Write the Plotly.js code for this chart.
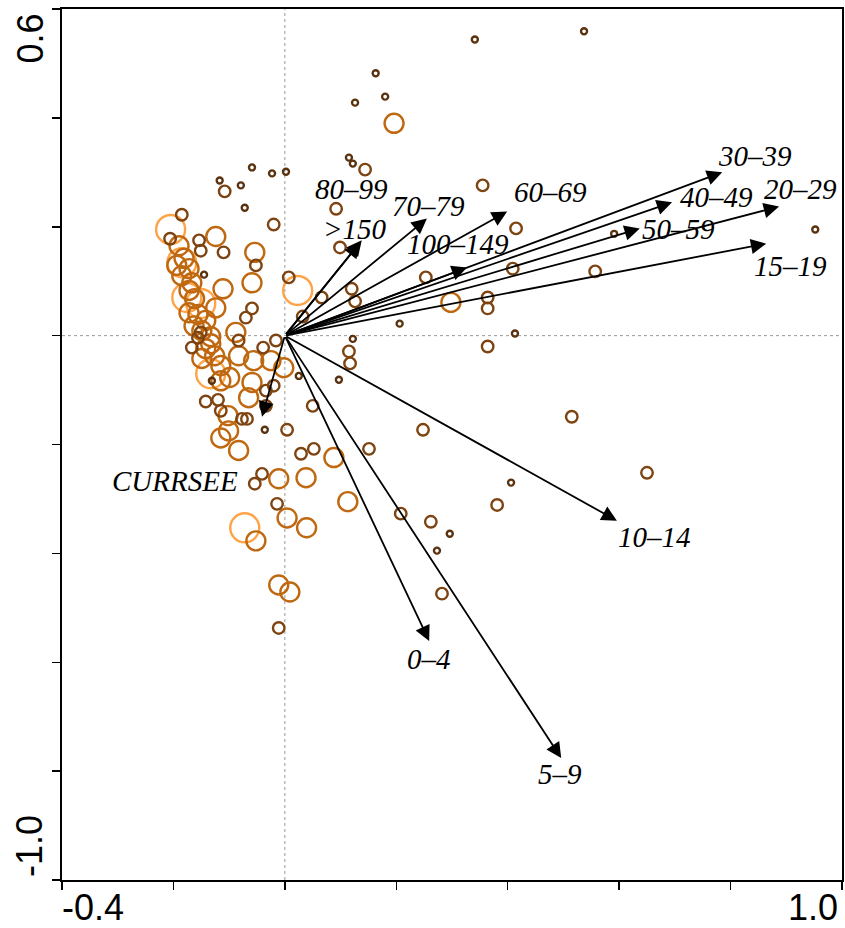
<!DOCTYPE html>
<html>
<head>
<meta charset="utf-8">
<script src="https://cdn.plot.ly/plotly-3.0.1.min.js"></script>
<style>
  html, body { margin: 0; padding: 0; background: #fff; }
  #chart { width: 845px; height: 928px; }
</style>
</head>
<body>
<div id="chart"></div>
<script>
// Sample scores (axis 1, axis 2), grouped by symbol size class
const smallX = [0.341, 0.537, 0.163, 0.126, 0.180, 0.115, 0.122, 0.002, -0.059, -0.023, -0.117, -0.079, -0.072, 0.591, 0.206, 0.413, 0.122, 0.025, 0.097, 0.406, 0.296, 0.273, -0.145, -0.036, 0.952, -0.131];
const smallY = [0.544, 0.559, 0.482, 0.428, 0.439, 0.327, 0.316, 0.301, 0.309, 0.298, 0.285, 0.276, 0.235, 0.187, 0.022, 0.004, -0.006, -0.074, -0.081, -0.270, -0.364, -0.395, 0.112, -0.173, 0.195, -0.083];

const mediumX = [0.144, -0.108, -0.185, -0.020, 0.355, 0.092, 0.415, 0.099, 0.007, 0.066, 0.120, 0.126, 0.032, 0.253, 0.409, 0.364, 0.364, 0.557, 0.115, 0.364, 0.117, 0.050, 0.004, 0.248, 0.515, 0.029, 0.052, 0.151, 0.650, 0.381, 0.208, 0.262, 0.282, -0.011, -0.014, -0.054, -0.041, -0.206, -0.154, -0.151, -0.110, -0.052, -0.059, -0.070, -0.016, -0.151, -0.039, -0.083, -0.142, -0.120, -0.115, -0.077, -0.068, -0.034, -0.020, -0.034, -0.167, -0.156];
const mediumY = [0.305, 0.265, 0.222, 0.204, 0.276, 0.233, 0.197, 0.162, 0.107, 0.070, 0.086, 0.063, 0.035, 0.107, 0.123, 0.070, 0.050, 0.118, -0.029, -0.020, -0.051, -0.129, -0.173, -0.173, -0.149, -0.217, -0.208, -0.208, -0.252, -0.311, -0.327, -0.342, -0.474, -0.537, -0.309, -0.272, -0.254, 0.178, 0.175, 0.156, 0.153, 0.129, 0.050, 0.033, -0.009, 0.006, -0.022, -0.009, -0.121, -0.118, -0.138, -0.153, -0.153, -0.101, -0.092, -0.129, -0.022, -0.004];

const largeX = [0.196, -0.124, -0.054, -0.059, -0.111, -0.124, 0.298, -0.002, 0.088, 0.038, -0.011, 0.113, 0.004, 0.039, -0.052, -0.011, 0.009, -0.102, -0.115, -0.101, -0.083, -0.065, -0.059, -0.083, -0.056, -0.025, -0.088, -0.149, -0.190, -0.181, -0.194, -0.172, -0.185, -0.167, -0.172, -0.162, -0.172, -0.156, -0.142, -0.163, -0.149, -0.133, -0.142, -0.126, -0.115, -0.115, -0.099, -0.133];
const largeY = [0.390, 0.182, 0.153, 0.097, 0.086, 0.051, 0.061, -0.059, -0.224, -0.261, -0.263, -0.305, -0.335, -0.353, -0.377, -0.458, -0.471, -0.147, -0.188, -0.175, -0.211, -0.114, -0.086, -0.037, -0.046, -0.046, 0.006, -0.042, 0.165, 0.142, 0.129, 0.123, 0.110, 0.097, 0.083, 0.068, 0.042, 0.039, 0.028, 0.018, 0.009, -0.002, -0.024, -0.037, -0.055, -0.083, -0.077, -0.015];

const hugeX = [-0.205, 0.023, -0.176, -0.151, -0.133, -0.072, -0.185];
const hugeY = [0.195, 0.083, 0.070, 0.059, -0.070, -0.353, 0.134];

// Explanatory variables (biplot arrow tips)
const varNames = ['30\u201339', '40\u201349', '20\u201329', '50\u201359', '15\u201319', '60\u201369', '70\u201379', '80\u201399', '>150', '100\u2013149', '10\u201314', '0\u20134', '5\u20139', 'CURRSEE'];
const varX = [0.785, 0.695, 0.887, 0.637, 0.864, 0.399, 0.255, 0.138, 0.135, 0.327, 0.596, 0.259, 0.496, -0.041];
const varY = [0.300, 0.245, 0.237, 0.197, 0.169, 0.228, 0.215, 0.175, 0.171, 0.125, -0.340, -0.561, -0.776, -0.149];

// Where each variable name is written (axis units)
const labelX = [0.844, 0.774, 0.925, 0.707, 0.908, 0.476, 0.257, 0.119, 0.126, 0.311, 0.664, 0.259, 0.494, -0.198];
const labelY = [0.330, 0.255, 0.270, 0.196, 0.128, 0.264, 0.238, 0.269, 0.196, 0.168, -0.370, -0.594, -0.806, -0.267];

const circleLine = 2.4;
function circles(xs, ys, size, color) {
  return {
    type: 'scatter', mode: 'markers', x: xs, y: ys, hoverinfo: 'skip',
    marker: { symbol: 'circle-open', size: size, color: color, line: { width: circleLine } }
  };
}

const data = [
  circles(hugeX, hugeY, 29, '#ffa347'),
  circles(largeX, largeY, 19, '#bf6810'),
  circles(mediumX, mediumY, 11.5, '#7d4412'),
  circles(smallX, smallY, 6, '#5a3210')
];

const annotations = [];
varNames.forEach((name, i) => {
  annotations.push({
    x: varX[i], y: varY[i], ax: 0, ay: 0,
    xref: 'x', yref: 'y', axref: 'x', ayref: 'y',
    text: '', showarrow: true, arrowhead: 2, arrowsize: 1.7, arrowwidth: 1.8,
    arrowcolor: '#000', standoff: 0, startstandoff: 0
  });
  annotations.push({
    x: labelX[i], y: labelY[i], xref: 'x', yref: 'y',
    text: name, showarrow: false, xanchor: 'center', yanchor: 'middle',
    font: { family: 'Liberation Serif, Times New Roman, serif', size: 29, style: 'italic', color: '#000' }
  });
});

const axisFont = { family: 'Liberation Sans, Arial, sans-serif', size: 36, color: '#000' };
annotations.push(
  { x: -0.041, y: 0.546, xref: 'paper', yref: 'y', text: '0.6', textangle: -90, showarrow: false, xanchor: 'center', yanchor: 'middle', font: axisFont },
  { x: -0.041, y: -0.9375, xref: 'paper', yref: 'y', text: '-1.0', textangle: -90, showarrow: false, xanchor: 'center', yanchor: 'middle', font: axisFont },
  { x: -0.345, y: -0.032, xref: 'x', yref: 'paper', text: '-0.4', showarrow: false, xanchor: 'center', yanchor: 'middle', font: axisFont },
  { x: 0.948, y: -0.032, xref: 'x', yref: 'paper', text: '1.0', showarrow: false, xanchor: 'center', yanchor: 'middle', font: axisFont }
);

const axisBase = {
  showline: true, linecolor: '#000', linewidth: 2.4, mirror: true,
  ticks: 'outside', ticklen: 8, tickwidth: 1.5, tickcolor: '#000',
  tick0: 0, dtick: 0.2, showticklabels: false,
  showgrid: false, zeroline: false, fixedrange: true
};

const layout = {
  width: 845, height: 928,
  margin: { l: 62, r: 3, t: 9, b: 48, pad: 0 },
  paper_bgcolor: '#fff', plot_bgcolor: '#fff',
  showlegend: false,
  xaxis: Object.assign({}, axisBase, { range: [-0.4, 1.0] }),
  yaxis: Object.assign({}, axisBase, { range: [-1.0, 0.6] }),
  shapes: [
    { type: 'line', xref: 'x', yref: 'paper', x0: 0, x1: 0, y0: 0, y1: 1, line: { color: '#9a9a9a', width: 1, dash: 'dot' }, layer: 'below' },
    { type: 'line', xref: 'paper', yref: 'y', x0: 0, x1: 1, y0: 0, y1: 0, line: { color: '#9a9a9a', width: 1, dash: 'dot' }, layer: 'below' }
  ],
  annotations: annotations
};

Plotly.newPlot('chart', data, layout, { displayModeBar: false, staticPlot: true });
</script>
</body>
</html>
